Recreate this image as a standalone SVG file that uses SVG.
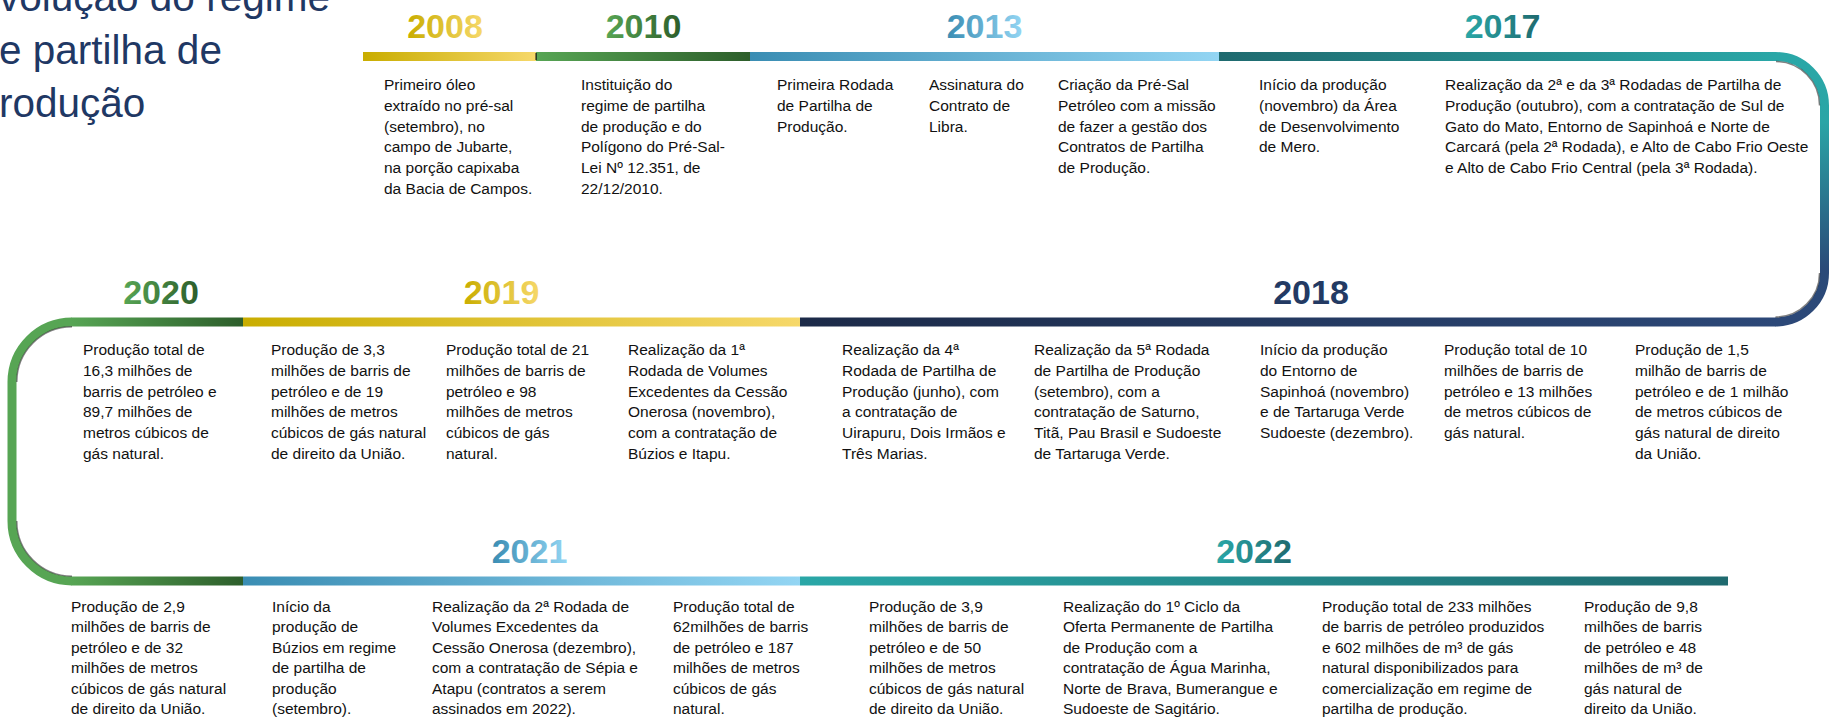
<svg xmlns="http://www.w3.org/2000/svg" width="1829" height="719" viewBox="0 0 1829 719">
<defs>
<style>
.t{font-family:"Liberation Sans",Arial,sans-serif;font-size:15.5px;fill:#111}
.y{font-family:"Liberation Sans",Arial,sans-serif;font-size:34px;font-weight:bold;text-anchor:middle}
.title{font-family:"Liberation Sans",Arial,sans-serif;font-size:40.5px;fill:#1f3864}
.edge{fill:none;stroke:#1a1a1a;stroke-width:1.4;opacity:0.55}
</style>
<linearGradient id="gGold" x1="0" y1="0" x2="1" y2="0"><stop offset="0" stop-color="#c9ad00"/><stop offset="1" stop-color="#f6d86a"/></linearGradient>
<linearGradient id="gGreen" x1="0" y1="0" x2="1" y2="0"><stop offset="0" stop-color="#57a554"/><stop offset="1" stop-color="#2d5e2b"/></linearGradient>
<linearGradient id="gBlue" x1="0" y1="0" x2="1" y2="0"><stop offset="0" stop-color="#3a8db3"/><stop offset="1" stop-color="#93d5f3"/></linearGradient>
<linearGradient id="gTealUp" x1="0" y1="0" x2="1" y2="0"><stop offset="0" stop-color="#1f6a6f"/><stop offset="1" stop-color="#2aa7a7"/></linearGradient>
<linearGradient id="gTealDown" x1="0" y1="0" x2="1" y2="0"><stop offset="0" stop-color="#2aa7a7"/><stop offset="1" stop-color="#1f6a6f"/></linearGradient>
<linearGradient id="gNavy" x1="0" y1="0" x2="1" y2="0"><stop offset="0" stop-color="#1c2a48"/><stop offset="1" stop-color="#2c4878"/></linearGradient>
<linearGradient id="gCurveR" gradientUnits="userSpaceOnUse" x1="0" y1="56" x2="0" y2="322"><stop offset="0" stop-color="#2aa7a7"/><stop offset="0.25" stop-color="#2aa5a6"/><stop offset="0.8" stop-color="#2a4a78"/><stop offset="1" stop-color="#2c4878"/></linearGradient>
</defs>

<g id="title">
<text class="title" x="-1" y="11">volução do regime</text>
<text class="title" x="-1" y="64">e partilha de</text>
<text class="title" x="-1" y="117">rodução</text>
</g>

<g id="connectors">
<rect x="363" y="52" width="173" height="9" fill="url(#gGold)"/>
<rect x="536" y="52" width="214" height="9" fill="url(#gGreen)"/>
<rect x="535.5" y="53" width="1.2" height="7" fill="#111"/>
<rect x="750" y="52" width="469" height="9" fill="url(#gBlue)"/>
<rect x="1219" y="52" width="557" height="9" fill="url(#gTealUp)"/>
<path d="M1775.5 56.5 A49 49 0 0 1 1824.5 105.5 V273 A49 49 0 0 1 1775.5 322" fill="none" stroke="url(#gCurveR)" stroke-width="9"/>
<path class="edge" d="M1776 61.5 A44 44 0 0 1 1819.5 105.5"/>
<path class="edge" d="M1819.5 273 A44 44 0 0 1 1775.5 317"/>
<rect x="800" y="317.5" width="976" height="9" fill="url(#gNavy)"/>
<rect x="243" y="317.5" width="557" height="9" fill="url(#gGold)"/>
<rect x="71.5" y="317.5" width="171.5" height="9" fill="url(#gGreen)"/>
<path d="M72 322 A60 60 0 0 0 12 382 V521 A60 60 0 0 0 72 581" fill="none" stroke="#57a554" stroke-width="9"/>
<path class="edge" d="M72 326.8 A55.2 55.2 0 0 0 16.8 382"/>
<path class="edge" d="M16.8 521 A55.2 55.2 0 0 0 72 576.2"/>
<rect x="71.5" y="576.5" width="171.5" height="9" fill="url(#gGreen)"/>
<rect x="243" y="576.5" width="557" height="9" fill="url(#gBlue)"/>
<rect x="800" y="576.5" width="928" height="9" fill="url(#gTealDown)"/>
</g>

<g id="y2008">
<text class="y" x="445" y="38" fill="url(#gGold)">2008</text>
<text class="t" x="384" y="90"><tspan x="384">Primeiro óleo</tspan><tspan x="384" dy="20.8">extraído no pré-sal</tspan><tspan x="384" dy="20.8">(setembro), no</tspan><tspan x="384" dy="20.8">campo de Jubarte,</tspan><tspan x="384" dy="20.8">na porção capixaba</tspan><tspan x="384" dy="20.8">da Bacia de Campos.</tspan></text>
</g>

<g id="y2010">
<text class="y" x="643.5" y="38" fill="url(#gGreen)">2010</text>
<text class="t" x="581" y="90"><tspan x="581">Instituição do</tspan><tspan x="581" dy="20.8">regime de partilha</tspan><tspan x="581" dy="20.8">de produção e do</tspan><tspan x="581" dy="20.8">Polígono do Pré-Sal-</tspan><tspan x="581" dy="20.8">Lei Nº 12.351, de</tspan><tspan x="581" dy="20.8">22/12/2010.</tspan></text>
</g>

<g id="y2013">
<text class="y" x="984.5" y="38" fill="url(#gBlue)">2013</text>
<text class="t" x="777" y="90"><tspan x="777">Primeira Rodada</tspan><tspan x="777" dy="20.8">de Partilha de</tspan><tspan x="777" dy="20.8">Produção.</tspan></text>
<text class="t" x="929" y="90"><tspan x="929">Assinatura do</tspan><tspan x="929" dy="20.8">Contrato de</tspan><tspan x="929" dy="20.8">Libra.</tspan></text>
<text class="t" x="1058" y="90"><tspan x="1058">Criação da Pré-Sal</tspan><tspan x="1058" dy="20.8">Petróleo com a missão</tspan><tspan x="1058" dy="20.8">de fazer a gestão dos</tspan><tspan x="1058" dy="20.8">Contratos de Partilha</tspan><tspan x="1058" dy="20.8">de Produção.</tspan></text>
</g>

<g id="y2017">
<text class="y" x="1502.5" y="38" fill="url(#gTealDown)">2017</text>
<text class="t" x="1259" y="90"><tspan x="1259">Início da produção</tspan><tspan x="1259" dy="20.8">(novembro) da Área</tspan><tspan x="1259" dy="20.8">de Desenvolvimento</tspan><tspan x="1259" dy="20.8">de Mero.</tspan></text>
<text class="t" x="1445" y="90"><tspan x="1445">Realização da 2ª e da 3ª Rodadas de Partilha de</tspan><tspan x="1445" dy="20.8">Produção (outubro), com a contratação de Sul de</tspan><tspan x="1445" dy="20.8">Gato do Mato, Entorno de Sapinhoá e Norte de</tspan><tspan x="1445" dy="20.8">Carcará (pela 2ª Rodada), e Alto de Cabo Frio Oeste</tspan><tspan x="1445" dy="20.8">e Alto de Cabo Frio Central (pela 3ª Rodada).</tspan></text>
</g>

<g id="y2018">
<text class="y" x="1311" y="304" fill="#233a63">2018</text>
<text class="t" x="842" y="355"><tspan x="842">Realização da 4ª</tspan><tspan x="842" dy="20.8">Rodada de Partilha de</tspan><tspan x="842" dy="20.8">Produção (junho), com</tspan><tspan x="842" dy="20.8">a contratação de</tspan><tspan x="842" dy="20.8">Uirapuru, Dois Irmãos e</tspan><tspan x="842" dy="20.8">Três Marias.</tspan></text>
<text class="t" x="1034" y="355"><tspan x="1034">Realização da 5ª Rodada</tspan><tspan x="1034" dy="20.8">de Partilha de Produção</tspan><tspan x="1034" dy="20.8">(setembro), com a</tspan><tspan x="1034" dy="20.8">contratação de Saturno,</tspan><tspan x="1034" dy="20.8">Titã, Pau Brasil e Sudoeste</tspan><tspan x="1034" dy="20.8">de Tartaruga Verde.</tspan></text>
<text class="t" x="1260" y="355"><tspan x="1260">Início da produção</tspan><tspan x="1260" dy="20.8">do Entorno de</tspan><tspan x="1260" dy="20.8">Sapinhoá (novembro)</tspan><tspan x="1260" dy="20.8">e de Tartaruga Verde</tspan><tspan x="1260" dy="20.8">Sudoeste (dezembro).</tspan></text>
<text class="t" x="1444" y="355"><tspan x="1444">Produção total de 10</tspan><tspan x="1444" dy="20.8">milhões de barris de</tspan><tspan x="1444" dy="20.8">petróleo e 13 milhões</tspan><tspan x="1444" dy="20.8">de metros cúbicos de</tspan><tspan x="1444" dy="20.8">gás natural.</tspan></text>
<text class="t" x="1635" y="355"><tspan x="1635">Produção de 1,5</tspan><tspan x="1635" dy="20.8">milhão de barris de</tspan><tspan x="1635" dy="20.8">petróleo e de 1 milhão</tspan><tspan x="1635" dy="20.8">de metros cúbicos de</tspan><tspan x="1635" dy="20.8">gás natural de direito</tspan><tspan x="1635" dy="20.8">da União.</tspan></text>
</g>

<g id="y2019">
<text class="y" x="501.5" y="304" fill="url(#gGold)">2019</text>
<text class="t" x="271" y="355"><tspan x="271">Produção de 3,3</tspan><tspan x="271" dy="20.8">milhões de barris de</tspan><tspan x="271" dy="20.8">petróleo e de 19</tspan><tspan x="271" dy="20.8">milhões de metros</tspan><tspan x="271" dy="20.8">cúbicos de gás natural</tspan><tspan x="271" dy="20.8">de direito da União.</tspan></text>
<text class="t" x="446" y="355"><tspan x="446">Produção total de 21</tspan><tspan x="446" dy="20.8">milhões de barris de</tspan><tspan x="446" dy="20.8">petróleo e 98</tspan><tspan x="446" dy="20.8">milhões de metros</tspan><tspan x="446" dy="20.8">cúbicos de gás</tspan><tspan x="446" dy="20.8">natural.</tspan></text>
<text class="t" x="628" y="355"><tspan x="628">Realização da 1ª</tspan><tspan x="628" dy="20.8">Rodada de Volumes</tspan><tspan x="628" dy="20.8">Excedentes da Cessão</tspan><tspan x="628" dy="20.8">Onerosa (novembro),</tspan><tspan x="628" dy="20.8">com a contratação de</tspan><tspan x="628" dy="20.8">Búzios e Itapu.</tspan></text>
</g>

<g id="y2020">
<text class="y" x="161" y="304" fill="url(#gGreen)">2020</text>
<text class="t" x="83" y="355"><tspan x="83">Produção total de</tspan><tspan x="83" dy="20.8">16,3 milhões de</tspan><tspan x="83" dy="20.8">barris de petróleo e</tspan><tspan x="83" dy="20.8">89,7 milhões de</tspan><tspan x="83" dy="20.8">metros cúbicos de</tspan><tspan x="83" dy="20.8">gás natural.</tspan></text>
</g>

<g id="y2021">
<text class="y" x="529.5" y="563" fill="url(#gBlue)">2021</text>
<text class="t" x="71" y="612"><tspan x="71">Produção de 2,9</tspan><tspan x="71" dy="20.4">milhões de barris de</tspan><tspan x="71" dy="20.4">petróleo e de 32</tspan><tspan x="71" dy="20.4">milhões de metros</tspan><tspan x="71" dy="20.4">cúbicos de gás natural</tspan><tspan x="71" dy="20.4">de direito da União.</tspan></text>
<text class="t" x="272" y="612"><tspan x="272">Início da</tspan><tspan x="272" dy="20.4">produção de</tspan><tspan x="272" dy="20.4">Búzios em regime</tspan><tspan x="272" dy="20.4">de partilha de</tspan><tspan x="272" dy="20.4">produção</tspan><tspan x="272" dy="20.4">(setembro).</tspan></text>
<text class="t" x="432" y="612"><tspan x="432">Realização da 2ª Rodada de</tspan><tspan x="432" dy="20.4">Volumes Excedentes da</tspan><tspan x="432" dy="20.4">Cessão Onerosa (dezembro),</tspan><tspan x="432" dy="20.4">com a contratação de Sépia e</tspan><tspan x="432" dy="20.4">Atapu (contratos a serem</tspan><tspan x="432" dy="20.4">assinados em 2022).</tspan></text>
<text class="t" x="673" y="612"><tspan x="673">Produção total de</tspan><tspan x="673" dy="20.4">62milhões de barris</tspan><tspan x="673" dy="20.4">de petróleo e 187</tspan><tspan x="673" dy="20.4">milhões de metros</tspan><tspan x="673" dy="20.4">cúbicos de gás</tspan><tspan x="673" dy="20.4">natural.</tspan></text>
</g>

<g id="y2022">
<text class="y" x="1254" y="563" fill="url(#gTealDown)">2022</text>
<text class="t" x="869" y="612"><tspan x="869">Produção de 3,9</tspan><tspan x="869" dy="20.4">milhões de barris de</tspan><tspan x="869" dy="20.4">petróleo e de 50</tspan><tspan x="869" dy="20.4">milhões de metros</tspan><tspan x="869" dy="20.4">cúbicos de gás natural</tspan><tspan x="869" dy="20.4">de direito da União.</tspan></text>
<text class="t" x="1063" y="612"><tspan x="1063">Realização do 1º Ciclo da</tspan><tspan x="1063" dy="20.4">Oferta Permanente de Partilha</tspan><tspan x="1063" dy="20.4">de Produção com a</tspan><tspan x="1063" dy="20.4">contratação de Água Marinha,</tspan><tspan x="1063" dy="20.4">Norte de Brava, Bumerangue e</tspan><tspan x="1063" dy="20.4">Sudoeste de Sagitário.</tspan></text>
<text class="t" x="1322" y="612"><tspan x="1322">Produção total de 233 milhões</tspan><tspan x="1322" dy="20.4">de barris de petróleo produzidos</tspan><tspan x="1322" dy="20.4">e 602 milhões de m³ de gás</tspan><tspan x="1322" dy="20.4">natural disponibilizados para</tspan><tspan x="1322" dy="20.4">comercialização em regime de</tspan><tspan x="1322" dy="20.4">partilha de produção.</tspan></text>
<text class="t" x="1584" y="612"><tspan x="1584">Produção de 9,8</tspan><tspan x="1584" dy="20.4">milhões de barris</tspan><tspan x="1584" dy="20.4">de petróleo e 48</tspan><tspan x="1584" dy="20.4">milhões de m³ de</tspan><tspan x="1584" dy="20.4">gás natural de</tspan><tspan x="1584" dy="20.4">direito da União.</tspan></text>
</g>
</svg>
